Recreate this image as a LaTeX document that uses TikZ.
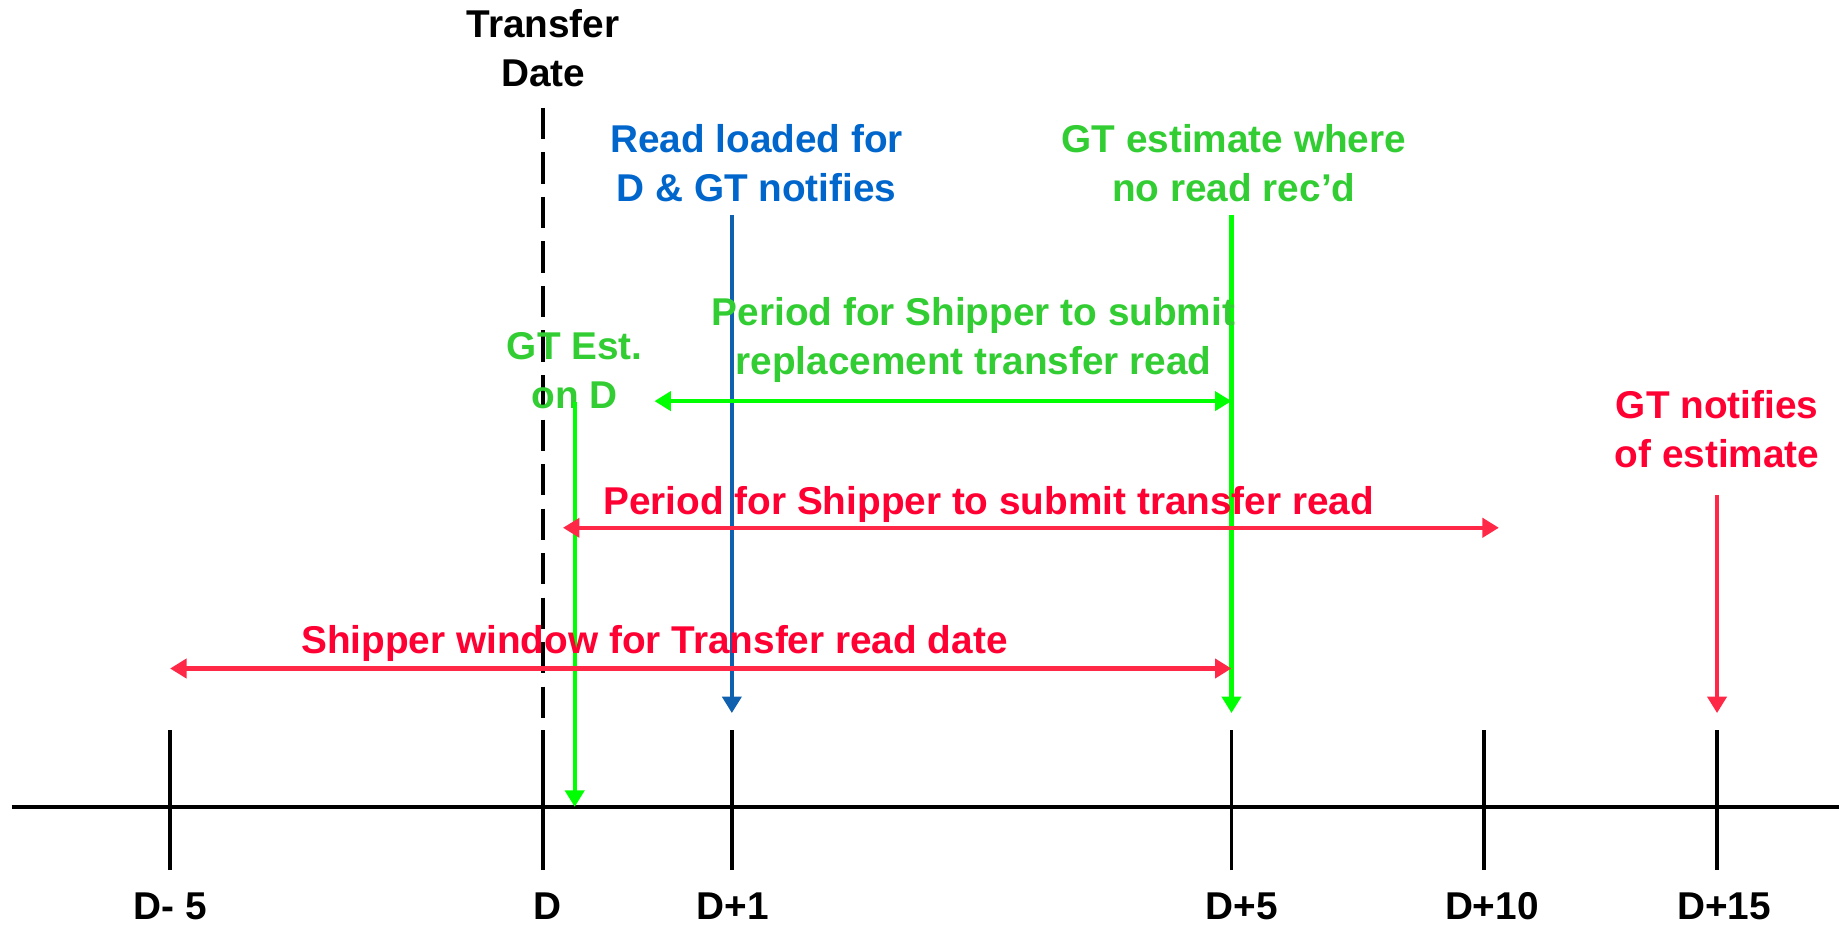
\documentclass[tikz,border=0pt]{standalone}
\usepackage{fontspec}
\setmainfont{Liberation Sans}
\usetikzlibrary{arrows.meta}

\definecolor{readblue}{RGB}{0,102,204}
\definecolor{readblueline}{RGB}{16,96,176}
\definecolor{estgreen}{RGB}{50,205,50}
\definecolor{estgreenline}{RGB}{0,255,0}
\definecolor{notered}{RGB}{255,0,51}
\definecolor{noteredline}{RGB}{255,40,70}

\begin{document}
\begin{tikzpicture}[line cap=butt, line join=round,
    >={Triangle[length=4pt, width=4.6pt]},
    txt/.style={font=\fontsize{9.4}{11.9}\selectfont\bfseries, align=center, inner sep=0pt},
    tick/.style={line width=0.9pt, black},
    arr/.style={line width=1.1pt},
    garr/.style={line width=1pt}]

  \useasboundingbox (0,0) rectangle (15.68,7.88);

  % ===== Parameters =====
  \def\axisY{1.00}   % height of the time axis
  \def\tickLo{0.46}  % lower end of the ticks
  \def\tickHi{1.66}  % upper end of the ticks
  \def\tipY{1.80}    % where the downward arrows stop

  % ===== Time axis =====
  \coordinate (axL) at (0.10,\axisY);
  \coordinate (axR) at (15.68,\axisY);
  \draw[line width=1.1pt] (axL) -- (axR);

  % Ticks and day labels
  \foreach \x/\name/\lab/\dx in {1.45/m5/{D- 5}/0, 4.63/d0/D/0.04, 6.24/p1/{D+1}/0.01,
                             10.50/p5/{D+5}/0.09, 12.65/p10/{D+10}/0.07, 14.64/p15/{D+15}/0.06}{
    \draw[tick] (\x,\tickLo) -- (\x,\tickHi);
    \coordinate (t\name) at (\x,\axisY);
    \node[txt] (lab\name) at (\x+\dx,0.15) {\lab};
  }

  % ===== Transfer date =====
  \node[txt] (transfer) at (4.63,7.47) {Transfer\\Date};
  \coordinate (dashTop) at (4.63,6.96);
  \coordinate (dashBot) at (4.63,1.08);
  \draw[line width=0.9pt, dash pattern=on 7.6pt off 3.2pt] (dashTop) -- (dashBot);

  % ===== Read loaded (blue) =====
  \node[txt, text=readblue] (readload) at (6.45,6.49) {Read loaded for\\D \& GT notifies};
  \coordinate (blueTop) at (6.24,6.05);
  \coordinate (blueTip) at (6.24,\tipY);
  \draw[arr, ->, readblueline] (blueTop) -- (blueTip);

  % ===== GT estimate where no read (green) =====
  \node[txt, text=estgreen] (noread) at (10.52,6.49) {GT estimate where\\no read rec’d};
  \coordinate (greenTop) at (10.50,6.05);
  \coordinate (greenTip) at (10.50,\tipY);
  \draw[garr, ->, estgreenline] (greenTop) -- (greenTip);

  % Replacement period
  \node[txt, text=estgreen] (replace) at (8.30,4.98) {Period for Shipper to submit\\replacement transfer read};
  \coordinate (repL) at (5.58,4.46);
  \coordinate (repR) at (10.50,4.46);
  \draw[garr, <->, estgreenline] (repL) -- (repR);

  % GT estimate on D
  \node[txt, text=estgreen] (estD) at (4.90,4.72) {GT Est.\\on D};
  \coordinate (estTop) at (4.90,4.45);
  \coordinate (estTip) at (4.90,\axisY);
  \draw[garr, ->, estgreenline] (estTop) -- (estTip);

  % ===== Red periods =====
  \node[txt, text=notered] (submit) at (8.43,3.58) {Period for Shipper to submit transfer read};
  \coordinate (subL) at (4.80,3.38);
  \coordinate (subR) at (12.78,3.38);
  \draw[arr, <->, noteredline] (subL) -- (subR);

  \node[txt, text=notered] (window) at (5.58,2.39) {Shipper window for Transfer read date};
  \coordinate (winL) at (1.45,2.18);
  \coordinate (winR) at (10.50,2.18);
  \draw[arr, <->, noteredline] (winL) -- (winR);

  % GT notifies of estimate
  \node[txt, text=notered] (notify) at (14.64,4.22) {GT notifies\\of estimate};
  \coordinate (notTop) at (14.64,3.66);
  \coordinate (notTip) at (14.64,\tipY);
  \draw[arr, ->, noteredline] (notTop) -- (notTip);

\end{tikzpicture}
\end{document}
